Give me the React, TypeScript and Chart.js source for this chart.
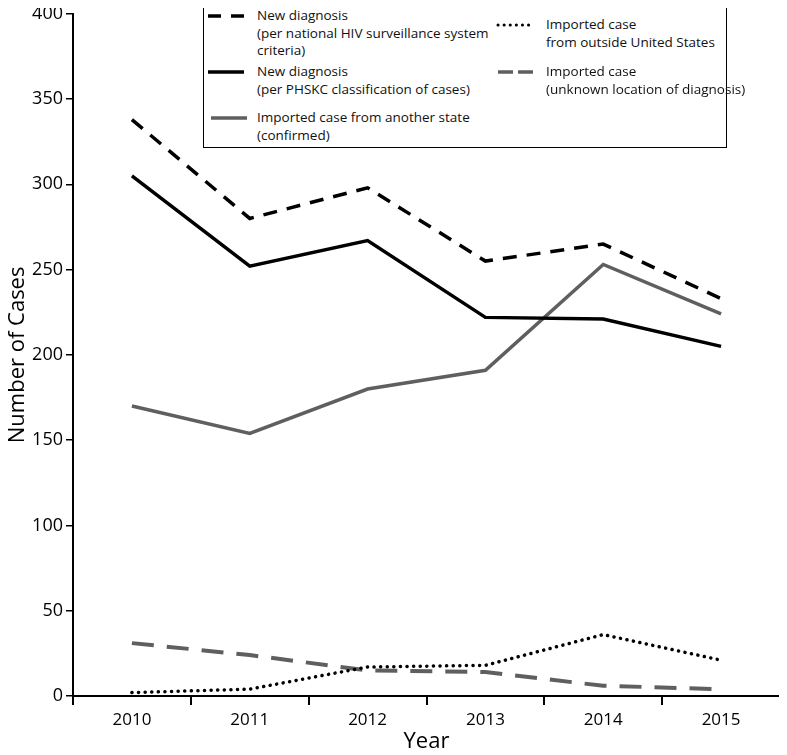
import React, { useEffect, useRef } from "react";
import { Chart, registerables } from "chart.js";

Chart.register(...registerables);

const years = ["2010", "2011", "2012", "2013", "2014", "2015"];
const newDiagNational = [338, 280, 298, 255, 265, 233];
const newDiagPHSKC = [305, 252, 267, 222, 221, 205];
const importedState = [170, 154, 180, 191, 253, 224];
const importedOutsideUS = [2, 4, 17, 18, 36, 21];
const importedUnknown = [31, 24, 15, 14, 6, 4];

const BLACK = "#000000";
const GRAY = "#5f5f5f";
const FONT = "'Open Sans', 'DejaVu Sans', sans-serif";

type LegendItem = {
  left: number;
  top: number;
  lineTop: number;
  lines: string[];
  color: string;
  dash: string;
  cap: "butt" | "round";
  width: number;
};

const legendItems: LegendItem[] = [
  { left: 206, top: 7, lineTop: 16, lines: ["New diagnosis", "(per national HIV surveillance system", "criteria)"], color: BLACK, dash: "13 10", cap: "butt", width: 3.5 },
  { left: 206, top: 63, lineTop: 72, lines: ["New diagnosis", "(per PHSKC classification of cases)"], color: BLACK, dash: "", cap: "butt", width: 3.5 },
  { left: 209, top: 109, lineTop: 118, lines: ["Imported case from another state", "(confirmed)"], color: GRAY, dash: "", cap: "butt", width: 3.5 },
  { left: 496, top: 16, lineTop: 25, lines: ["Imported case", "from outside United States"], color: BLACK, dash: "0.1 6", cap: "round", width: 3 },
  { left: 496, top: 63, lineTop: 72, lines: ["Imported case", "(unknown location of diagnosis)"], color: GRAY, dash: "15 5", cap: "butt", width: 3.5 },
];

export default function App() {
  const ref = useRef<HTMLCanvasElement | null>(null);

  useEffect(() => {
    if (!ref.current) return;
    const chart = new Chart(ref.current, {
      type: "line",
      data: {
        labels: years,
        datasets: [
          { label: "New diagnosis (per national HIV surveillance system criteria)", data: newDiagNational, borderColor: BLACK, borderWidth: 3.5, borderDash: [14, 10], pointRadius: 0, tension: 0 },
          { label: "New diagnosis (per PHSKC classification of cases)", data: newDiagPHSKC, borderColor: BLACK, borderWidth: 3.5, pointRadius: 0, tension: 0 },
          { label: "Imported case from another state (confirmed)", data: importedState, borderColor: GRAY, borderWidth: 3.5, pointRadius: 0, tension: 0 },
          { label: "Imported case from outside United States", data: importedOutsideUS, borderColor: BLACK, borderWidth: 3.5, borderDash: [0.1, 6.5], borderCapStyle: "round", pointRadius: 0, tension: 0 },
          { label: "Imported case (unknown location of diagnosis)", data: importedUnknown, borderColor: GRAY, borderWidth: 4, borderDash: [22, 13], pointRadius: 0, tension: 0 },
        ],
      },
      options: {
        animation: false,
        responsive: false,
        maintainAspectRatio: false,
        layout: { padding: { top: 13, right: 7, left: 0, bottom: 0 } },
        plugins: { legend: { display: false }, tooltip: { enabled: false } },
        scales: {
          x: {
            offset: true,
            grid: { offset: true, drawOnChartArea: false, drawTicks: true, tickLength: 9, color: BLACK, lineWidth: 2 },
            border: { display: true, color: BLACK, width: 2 },
            ticks: { color: BLACK, font: { family: FONT, size: 17 }, padding: 5 },
            title: { display: true, text: "Year", color: BLACK, font: { family: FONT, size: 22 }, padding: { top: 0, bottom: 0 } },
            afterFit: (s: any) => { s.height = 59; },
          },
          y: {
            min: 0,
            max: 400,
            ticks: { stepSize: 50, color: BLACK, font: { family: FONT, size: 18 }, padding: 3 },
            grid: { drawOnChartArea: false, drawTicks: true, tickLength: 7, color: BLACK, lineWidth: 1.5 },
            border: { display: true, color: BLACK, width: 2 },
            title: { display: true, text: "Number of Cases", color: BLACK, font: { family: FONT, size: 22 }, padding: { top: 5, bottom: 0 } },
            afterFit: (s: any) => { s.width = 73; },
          },
        },
      },
    });
    return () => chart.destroy();
  }, []);

  return (
    <div style={{ position: "relative", width: 787, height: 755, margin: "-8px 0 0 -8px", overflow: "hidden", background: "#fff" }}>
      <canvas ref={ref} width={787} height={755} style={{ position: "absolute", left: 0, top: 0 }} />
      <div style={{ position: "absolute", left: 203, top: 2, width: 524, height: 146, border: "1.5px solid #000", background: "#fff", boxSizing: "border-box" }} />
      {legendItems.map((it, i) => (
        <div key={i}>
          <svg style={{ position: "absolute", left: it.left, top: it.lineTop - 5 }} width={40} height={10}>
            <line x1={2} y1={5} x2={38} y2={5} stroke={it.color} strokeWidth={it.width} strokeDasharray={it.dash || undefined} strokeLinecap={it.cap} />
          </svg>
          <div style={{ position: "absolute", left: i >= 3 ? it.left + 50 : 257, top: it.top, fontFamily: FONT, fontSize: 13.5, lineHeight: "17.5px", color: "#111", whiteSpace: "nowrap" }}>
            {it.lines.map((l, j) => (<div key={j}>{l}</div>))}
          </div>
        </div>
      ))}
    </div>
  );
}
